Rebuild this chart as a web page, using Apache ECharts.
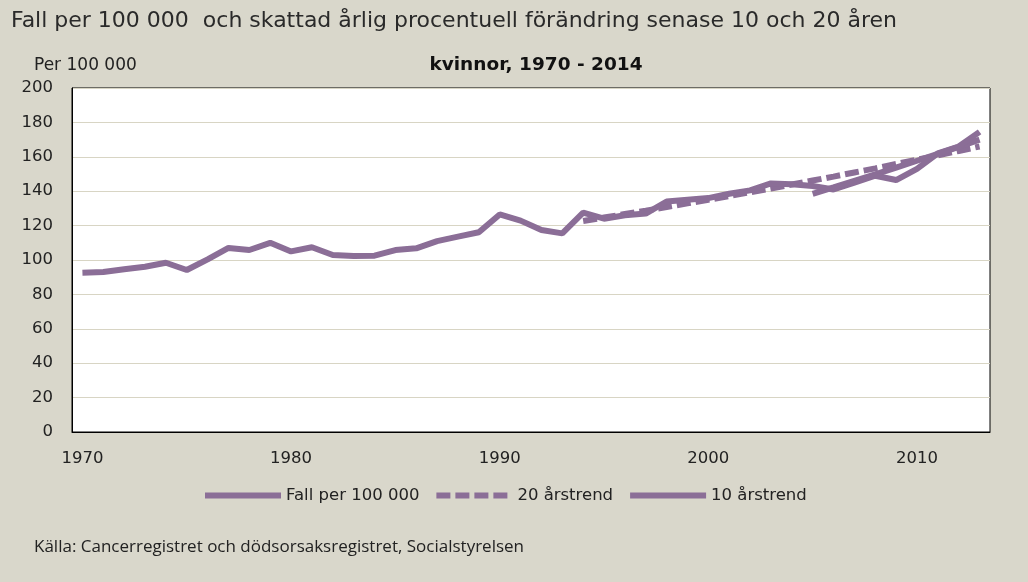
<!DOCTYPE html>
<html>
<head>
<meta charset="utf-8">
<script src="https://cdn.jsdelivr.net/npm/echarts@6/dist/echarts.min.js"></script>
<style>
html,body{margin:0;padding:0;background:#D9D7CB;}
#c{width:1028px;height:582px;}
</style>
</head>
<body>
<div id="c"></div>
<script>
const years = ['1970','1971','1972','1973','1974','1975','1976','1977','1978','1979',
  '1980','1981','1982','1983','1984','1985','1986','1987','1988','1989',
  '1990','1991','1992','1993','1994','1995','1996','1997','1998','1999',
  '2000','2001','2002','2003','2004','2005','2006','2007','2008','2009',
  '2010','2011','2012','2013'];
const fallPer100000 = [92.6, 93, 94.6, 96.1, 98.4, 94.2, 100.4, 107, 105.8, 110,
  105, 107.4, 102.9, 102.3, 102.5, 105.8, 106.8, 111, 113.6, 116.1,
  126.5, 122.9, 117.4, 115.5, 127.5, 124, 126, 127, 134, 135,
  136, 138.5, 140.5, 144.5, 144, 143, 141, 145, 149, 146.5,
  153, 162, 166, 174.5];
const trend20Years = ['1994','1995','1996','1997','1998','1999','2000','2001','2002','2003',
  '2004','2005','2006','2007','2008','2009','2010','2011','2012','2013'];
const trend20 = [122.7, 124.7, 126.7, 128.7, 130.8, 132.9, 135.0, 137.2, 139.4, 141.6,
  143.9, 146.2, 148.5, 150.9, 153.3, 155.8, 158.3, 160.8, 163.4, 166.0];
const trend10Years = ['2005','2006','2007','2008','2009','2010','2011','2012','2013'];
const trend10 = [138.5, 142.2, 146.0, 149.8, 153.7, 157.7, 161.7, 165.8, 170.0];
const yTicks = [0, 20, 40, 60, 80, 100, 120, 140, 160, 180, 200];
const seriesNames = ['Fall per 100 000', '20 årstrend', '10 årstrend'];

const lineColor = '#8B6E97';
const fontMain = 'DejaVu Sans';

function pad(ys, vals) {
  return years.map(y => { const i = ys.indexOf(y); return i >= 0 ? vals[i] : null; });
}

const chart = echarts.init(document.getElementById('c'), null, {renderer: 'canvas'});
chart.setOption({
  backgroundColor: '#D9D7CB',
  animation: false,
  title: [
    {text: 'Fall per 100 000  och skattad årlig procentuell förändring senase 10 och 20 åren',
     left: 6, top: 5, textStyle: {fontFamily: fontMain, fontSize: 22, fontWeight: 'normal', color: '#2a2a2a'}},
    {text: 'kvinnor, 1970 - 2014', left: 531, top: 51, textAlign: 'center',
     textStyle: {fontFamily: fontMain, fontSize: 18.5, fontWeight: 'bold', color: '#111'}},
    {text: 'Per 100 000', left: 29, top: 52,
     textStyle: {fontFamily: fontMain, fontSize: 17, fontWeight: 'normal', color: '#222'}},
    {text: 'Källa: Cancerregistret och dödsorsaksregistret, Socialstyrelsen', left: 29, top: 534,
     textStyle: {fontFamily: 'Open Sans', fontSize: 17, fontWeight: 'normal', color: '#222'}}
  ],
  grid: {left: 72, right: 38, top: 88, bottom: 150, show: true, backgroundColor: '#ffffff',
         borderColor: '#000', borderWidth: 1, containLabel: false},
  legend: {
    data: seriesNames, bottom: 73, left: 197, itemWidth: 76, itemHeight: 12, itemGap: 14,
    itemStyle: {opacity: 0},
    lineStyle: {width: 6, cap: 'butt'},
    textStyle: {fontFamily: fontMain, fontSize: 16.5, color: '#222'}
  },
  xAxis: {
    type: 'category', data: years, boundaryGap: true,
    axisLine: {lineStyle: {color: '#000', width: 1}},
    axisTick: {inside: true, length: 5, interval: 9, lineStyle: {color: '#000'}},
    axisLabel: {interval: 9, margin: 18, fontFamily: fontMain, fontSize: 16.5, color: '#222'},
    splitLine: {show: false}
  },
  yAxis: {
    type: 'value', min: yTicks[0], max: yTicks[yTicks.length - 1], interval: yTicks[1] - yTicks[0],
    axisLine: {show: true, lineStyle: {color: '#000', width: 1}},
    axisTick: {show: false},
    axisLabel: {margin: 19, fontFamily: fontMain, fontSize: 16.5, color: '#222'},
    splitLine: {lineStyle: {color: '#D8D5C4', width: 1}}
  },
  series: [
    {name: seriesNames[1], type: 'line', data: pad(trend20Years, trend20), symbol: 'none', showSymbol: false,
     lineStyle: {color: lineColor, width: 6, type: [14, 5]}, itemStyle: {color: lineColor}, z: 2},
    {name: seriesNames[2], type: 'line', data: pad(trend10Years, trend10), symbol: 'none', showSymbol: false,
     lineStyle: {color: lineColor, width: 6}, itemStyle: {color: lineColor}, z: 2},
    {name: seriesNames[0], type: 'line', data: fallPer100000, symbol: 'none', showSymbol: false,
     lineStyle: {color: lineColor, width: 6}, itemStyle: {color: lineColor}, z: 3}
  ]
});
</script>
</body>
</html>
